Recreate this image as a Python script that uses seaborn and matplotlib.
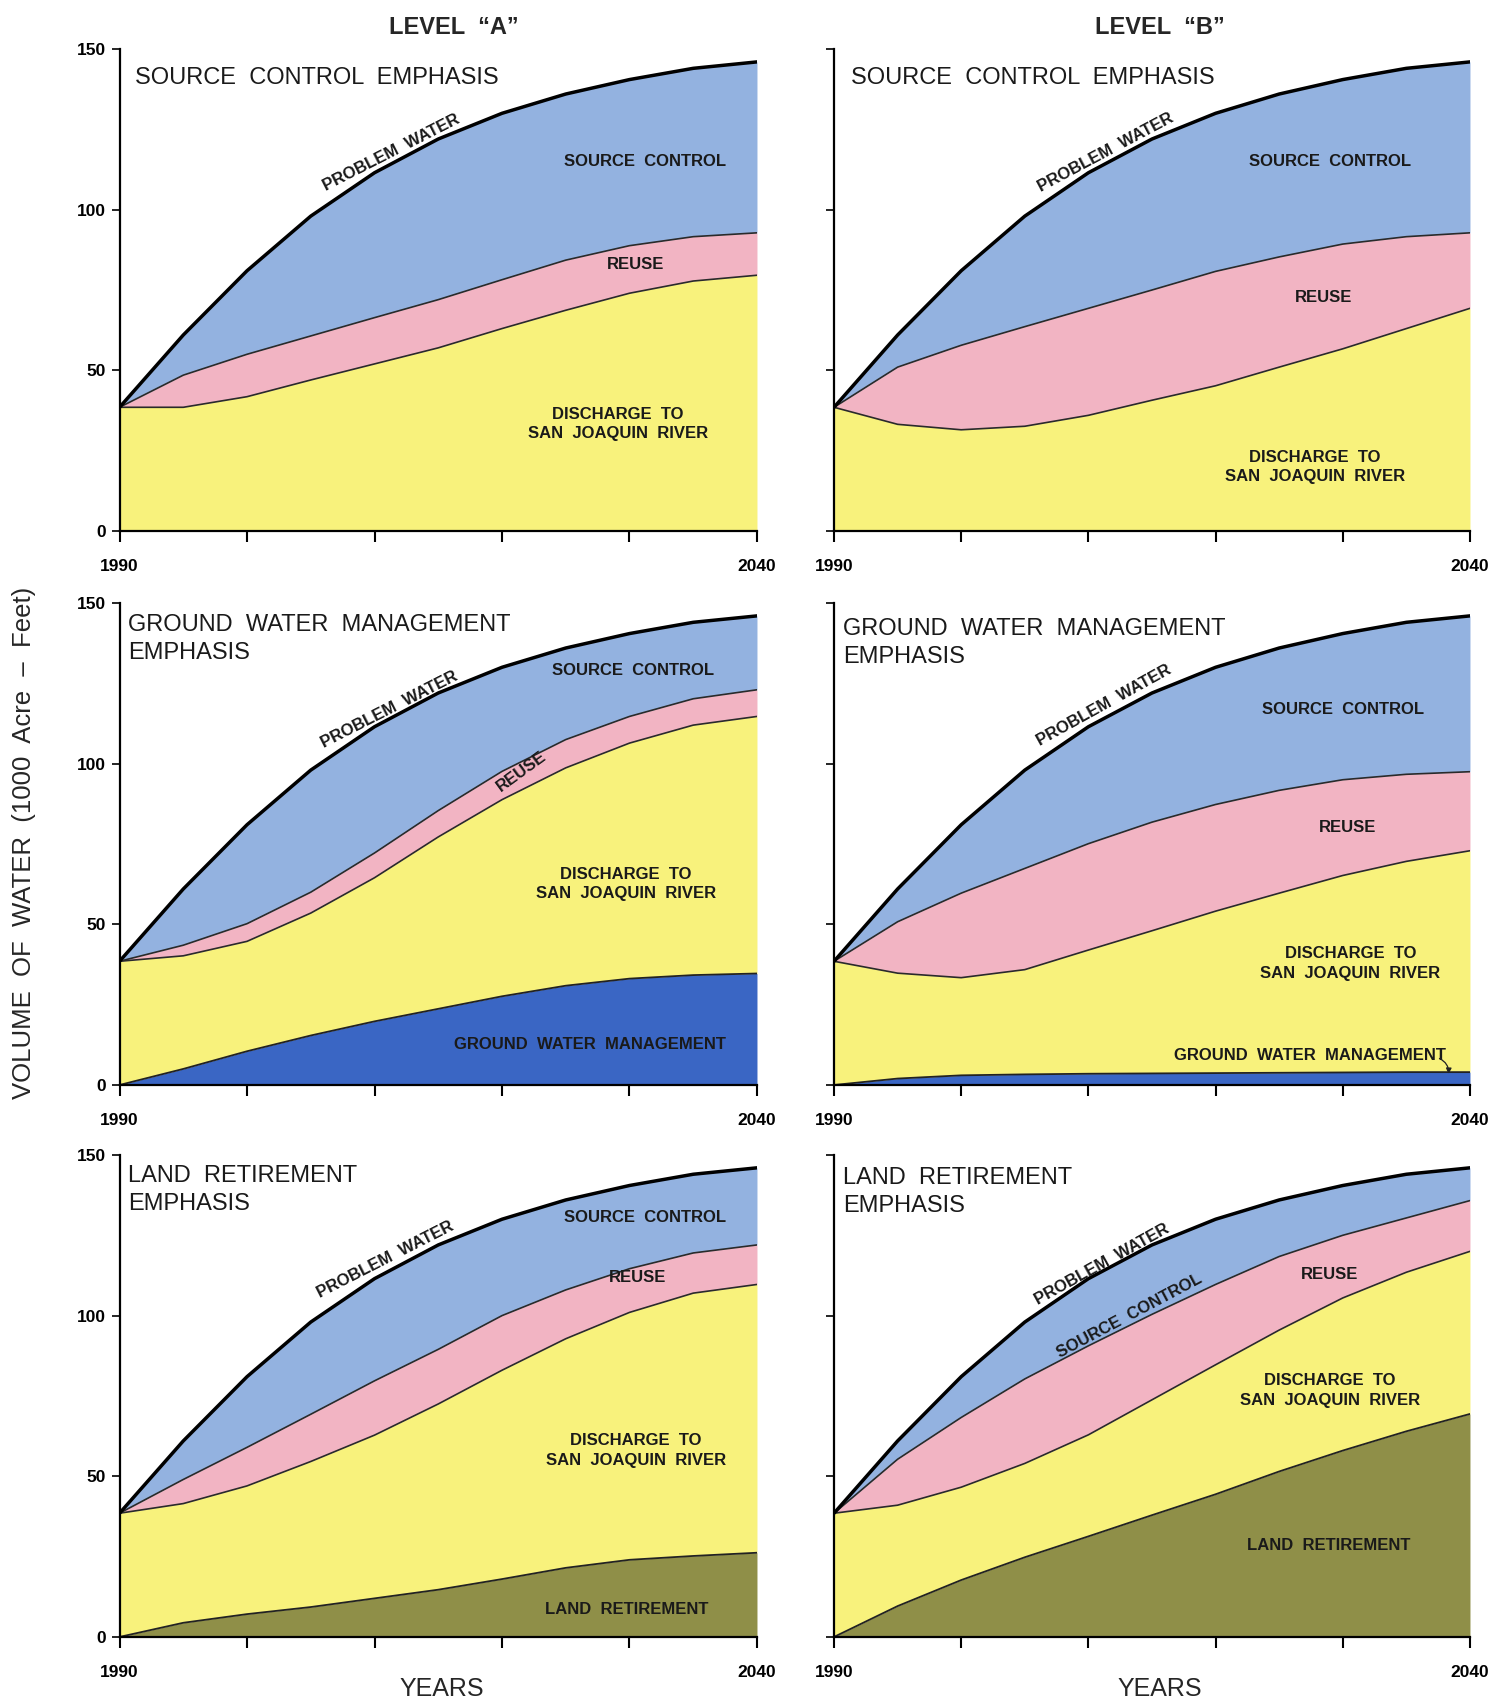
import numpy as np
import pandas as pd
import matplotlib
matplotlib.use("Agg")
import matplotlib.pyplot as plt
import seaborn as sns

# years read every 5 years off the curves
YEARS = [1990, 1995, 2000, 2005, 2010, 2015, 2020, 2025, 2030, 2035, 2040]

# total problem water (same top curve in every panel)
PROBLEM_WATER = [38.5, 61, 81, 98, 111.5, 122, 130, 136, 140.5, 144, 146]

# Level A - source control emphasis (cumulative tops of each band)
A_SC_REUSE_TOP = [38.5, 48.5, 55, 60.7, 66.4, 72, 78.2, 84.3, 88.8, 91.6, 92.8]
A_SC_DISCHARGE_TOP = [38.5, 38.5, 41.8, 47, 52, 57, 63, 68.7, 74, 77.8, 79.6]

# Level B - source control emphasis
B_SC_REUSE_TOP = [38.5, 51, 57.8, 63.6, 69.3, 75, 80.8, 85.3, 89.3, 91.6, 92.8]
B_SC_DISCHARGE_TOP = [38.5, 33.2, 31.5, 32.6, 36, 40.7, 45.2, 51, 56.7, 63, 69.3]

# Level A - ground water management emphasis
A_GW_REUSE_TOP = [38.5, 43.5, 50.2, 60, 72.2, 85.4, 97.6, 107.5, 114.7, 120.2, 123]
A_GW_DISCHARGE_TOP = [38.5, 40.2, 44.7, 53.5, 64.5, 77.2, 88.8, 98.7, 106.4, 112, 114.7]
A_GW_GWM_TOP = [0, 5, 10.5, 15.4, 19.8, 23.7, 27.6, 30.9, 33.1, 34.2, 34.7]

# Level B - ground water management emphasis
B_GW_REUSE_TOP = [38.5, 50.8, 59.7, 67.4, 75.1, 81.8, 87.3, 91.7, 95, 96.7, 97.5]
B_GW_DISCHARGE_TOP = [38.5, 34.8, 33.4, 35.9, 42, 48, 54.1, 59.7, 65.2, 69.6, 72.9]
B_GW_GWM_TOP = [0, 2, 3, 3.3, 3.5, 3.6, 3.7, 3.8, 3.9, 4, 4]

# Level A - land retirement emphasis
A_LR_REUSE_TOP = [38.5, 49, 59, 69.3, 79.7, 89.5, 100, 108, 114.6, 119.5, 122]
A_LR_DISCHARGE_TOP = [38.5, 41.5, 47, 54.6, 62.8, 72.5, 83, 92.8, 101, 107, 109.7]
A_LR_LAND_TOP = [0, 4.4, 7.1, 9.3, 12, 14.7, 18, 21.5, 24, 25.2, 26.2]

# Level B - land retirement emphasis
B_LR_REUSE_TOP = [38.5, 55.3, 68.3, 80.3, 90.6, 100.4, 109.7, 118.4, 125, 130.4, 135.8]
B_LR_DISCHARGE_TOP = [38.5, 41, 46.6, 54, 62.9, 73.8, 84.7, 95.5, 105.5, 113.5, 120]
B_LR_LAND_TOP = [0, 9.6, 17.7, 24.8, 31.3, 37.9, 44.4, 51.5, 58, 64, 69.4]

BLUE = "#93b2e0"
PINK = "#f2b4c3"
YELLOW = "#f8f27c"
DARK_BLUE = "#3a66c4"
OLIVE = "#8f8f48"

sns.set_theme(style="ticks")
plt.rcParams["font.family"] = ["Liberation Sans", "DejaVu Sans"]

fig = plt.figure(figsize=(14.96, 17.03), dpi=100)

lefts = [0.0799, 0.5575]
widths = [0.4261, 0.4251]
bottoms = [0.6882, 0.3629, 0.0388]
H = 0.2830


def label(ax, x, y, s, rot=0, va="center"):
    ax.text(x, y, s, fontsize=12, fontweight="bold",
            color="#1a1a1a", ha="center", va=va, rotation=rot,
            rotation_mode="anchor", linespacing=1.35)


def title(ax, x, y, s):
    ax.text(x, y, s, transform=ax.transAxes, fontsize=17, color="#1a1a1a",
            ha="left", va="top", linespacing=1.35)


def panel(ax, reuse_top, discharge_top, base_top=None, base_color=None):
    df = pd.DataFrame({"year": YEARS, "problem": PROBLEM_WATER,
                       "reuse": reuse_top, "discharge": discharge_top})
    zero = np.zeros(len(YEARS))
    base = zero if base_top is None else np.array(base_top)
    ax.fill_between(df["year"], df["reuse"], df["problem"], color=BLUE, lw=0)
    ax.fill_between(df["year"], df["discharge"], df["reuse"], color=PINK, lw=0)
    ax.fill_between(df["year"], base, df["discharge"], color=YELLOW, lw=0)
    if base_top is not None:
        ax.fill_between(df["year"], zero, base, color=base_color, lw=0)
        sns.lineplot(x=df["year"], y=base, ax=ax, color="#222222", lw=1.3)
    sns.lineplot(data=df, x="year", y="discharge", ax=ax, color="#2a2a2a", lw=1.2)
    sns.lineplot(data=df, x="year", y="reuse", ax=ax, color="#2a2a2a", lw=1.2)
    sns.lineplot(data=df, x="year", y="problem", ax=ax, color="black", lw=2.5)

    ax.set_xlim(1990, 2040)
    ax.set_ylim(0, 150)
    ax.set_xlabel("")
    ax.set_ylabel("")
    ax.set_facecolor("white")
    for side in ["top", "right"]:
        ax.spines[side].set_visible(False)
    for side in ["left", "bottom"]:
        ax.spines[side].set_color("black")
        ax.spines[side].set_linewidth(1.6)
    ax.set_xticks([1990, 2000, 2010, 2020, 2030, 2040])
    ax.set_xticklabels(["1990", "", "", "", "", "2040"])
    ax.set_yticks([0, 50, 100, 150])
    ax.tick_params(axis="x", direction="out", length=8, width=1.5,
                   labelsize=12.5, pad=12, colors="black")
    ax.tick_params(axis="y", direction="out", length=6, width=1.2,
                   labelsize=12.5, pad=4, colors="black")
    for t in ax.get_xticklabels() + ax.get_yticklabels():
        t.set_fontweight("bold")
    ax.grid(False)


axes = {}
for r in range(3):
    for c in range(2):
        axes[(r, c)] = fig.add_axes([lefts[c], bottoms[r], widths[c], H])

# ---- row 1: source control emphasis
ax = axes[(0, 0)]
panel(ax, A_SC_REUSE_TOP, A_SC_DISCHARGE_TOP)
title(ax, 0.024, 0.962, "SOURCE  CONTROL  EMPHASIS")
label(ax, 2011.5, 116.5, "PROBLEM  WATER", rot=27, va="baseline")
label(ax, 2031.2, 114.9, "SOURCE  CONTROL")
label(ax, 2030.5, 82.8, "REUSE")
label(ax, 2029.1, 33.4, "DISCHARGE  TO\nSAN  JOAQUIN  RIVER")

ax = axes[(0, 1)]
panel(ax, B_SC_REUSE_TOP, B_SC_DISCHARGE_TOP)
ax.set_yticklabels([])
title(ax, 0.026, 0.962, "SOURCE  CONTROL  EMPHASIS")
label(ax, 2011.5, 116.5, "PROBLEM  WATER", rot=28, va="baseline")
label(ax, 2029.0, 114.9, "SOURCE  CONTROL")
label(ax, 2028.5, 72.6, "REUSE")
label(ax, 2027.8, 19.9, "DISCHARGE  TO\nSAN  JOAQUIN  RIVER")

# ---- row 2: ground water management emphasis
ax = axes[(1, 0)]
panel(ax, A_GW_REUSE_TOP, A_GW_DISCHARGE_TOP, A_GW_GWM_TOP, DARK_BLUE)
title(ax, 0.014, 0.978, "GROUND  WATER  MANAGEMENT\nEMPHASIS")
label(ax, 2011.3, 115.5, "PROBLEM  WATER", rot=27, va="baseline")
label(ax, 2030.3, 129, "SOURCE  CONTROL")
label(ax, 2021.5, 97.6, "REUSE", rot=36)
label(ax, 2029.7, 62.5, "DISCHARGE  TO\nSAN  JOAQUIN  RIVER")
label(ax, 2026.9, 12.5, "GROUND  WATER  MANAGEMENT")

ax = axes[(1, 1)]
panel(ax, B_GW_REUSE_TOP, B_GW_DISCHARGE_TOP, B_GW_GWM_TOP, DARK_BLUE)
ax.set_yticklabels([])
title(ax, 0.014, 0.968, "GROUND  WATER  MANAGEMENT\nEMPHASIS")
label(ax, 2011.4, 117, "PROBLEM  WATER", rot=29, va="baseline")
label(ax, 2030.0, 117, "SOURCE  CONTROL")
label(ax, 2030.4, 80, "REUSE")
label(ax, 2030.6, 37.8, "DISCHARGE  TO\nSAN  JOAQUIN  RIVER")
label(ax, 2027.4, 9.1, "GROUND  WATER  MANAGEMENT")
ax.annotate("", xy=(2038.3, 2.6), xytext=(2037.4, 8.6),
            arrowprops=dict(arrowstyle="-|>", color="#222222", lw=0.9,
                            connectionstyle="arc3,rad=-0.4", mutation_scale=8))

# ---- row 3: land retirement emphasis
ax = axes[(2, 0)]
panel(ax, A_LR_REUSE_TOP, A_LR_DISCHARGE_TOP, A_LR_LAND_TOP, OLIVE)
title(ax, 0.014, 0.980, "LAND  RETIREMENT\nEMPHASIS")
label(ax, 2011.0, 116.3, "PROBLEM  WATER", rot=27, va="baseline")
label(ax, 2031.2, 130.4, "SOURCE  CONTROL")
label(ax, 2030.6, 112, "REUSE")
label(ax, 2030.5, 58, "DISCHARGE  TO\nSAN  JOAQUIN  RIVER")
label(ax, 2029.8, 8.4, "LAND  RETIREMENT")

ax = axes[(2, 1)]
panel(ax, B_LR_REUSE_TOP, B_LR_DISCHARGE_TOP, B_LR_LAND_TOP, OLIVE)
ax.set_yticklabels([])
title(ax, 0.014, 0.975, "LAND  RETIREMENT\nEMPHASIS")
label(ax, 2011.2, 114.8, "PROBLEM  WATER", rot=29, va="baseline")
label(ax, 2013.2, 100, "SOURCE  CONTROL", rot=28)
label(ax, 2029.0, 112.8, "REUSE")
label(ax, 2029.0, 76.7, "DISCHARGE  TO\nSAN  JOAQUIN  RIVER")
label(ax, 2028.9, 28.4, "LAND  RETIREMENT")

# column titles and shared axis labels
fig.text(0.3035, 0.984, "LEVEL  \u201cA\u201d", fontsize=17, fontweight="bold",
         ha="center", va="center")
fig.text(0.7755, 0.984, "LEVEL  \u201cB\u201d", fontsize=17, fontweight="bold",
         ha="center", va="center")
fig.text(0.016, 0.505, "VOLUME  OF  WATER  (1000  Acre  \u2013  Feet)", fontsize=18.5,
         rotation=90, ha="center", va="center")
fig.text(0.2955, 0.008, "YEARS", fontsize=18, ha="center", va="center")
fig.text(0.7755, 0.008, "YEARS", fontsize=18, ha="center", va="center")

fig.savefig("out.png", dpi=100, facecolor="white")
